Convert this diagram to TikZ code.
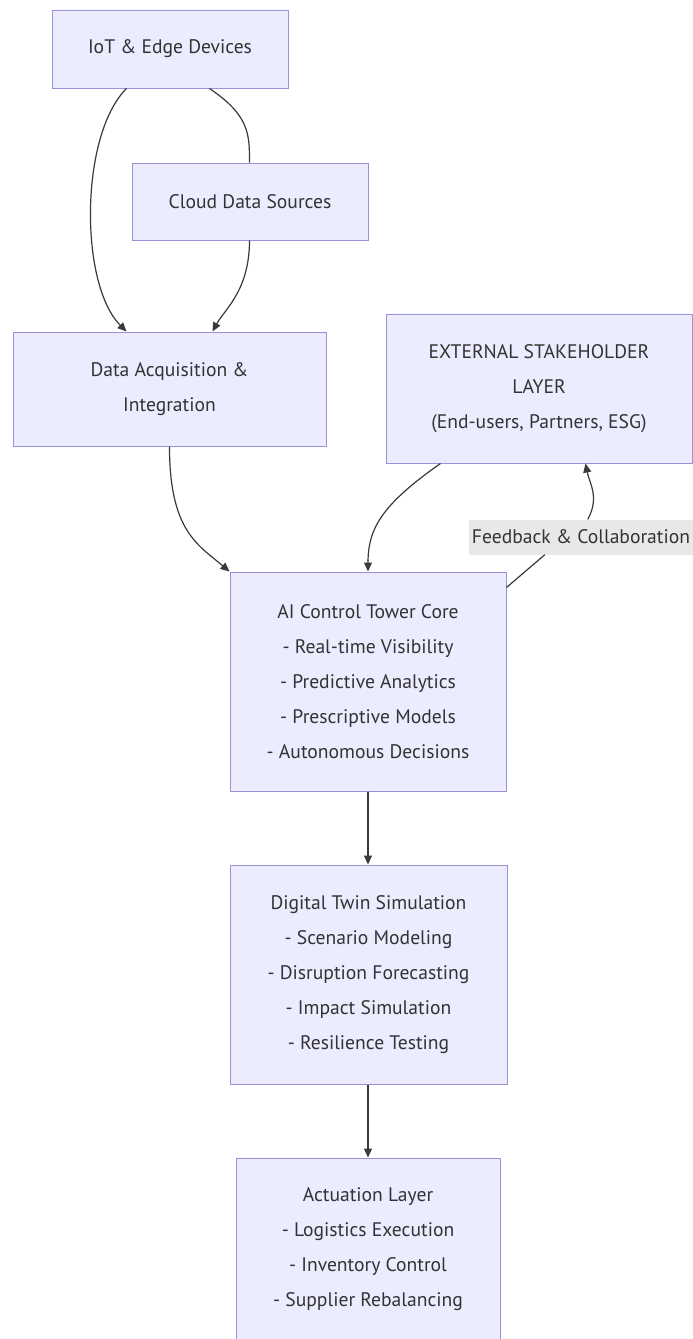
\documentclass[tikz,border=0pt]{standalone}
\usepackage{fontspec}
\setmainfont{PT Sans}
\usetikzlibrary{arrows.meta,calc}
\definecolor{nodefill}{HTML}{ECECFF}
\definecolor{nodeline}{HTML}{9D8FD8}
\definecolor{txt}{HTML}{333333}
\definecolor{edgecol}{HTML}{3A3A3A}
\definecolor{lblbg}{HTML}{E8E8E8}
\begin{document}
\begin{tikzpicture}[x=1pt,y=-1pt,
  box/.style={draw=nodeline, fill=nodefill, line width=1pt, align=center,
    text=txt, font=\fontsize{19.6}{35}\selectfont, inner sep=0pt},
  conn/.style={draw=edgecol, line width=1.2pt},
  arr/.style={conn, -{Triangle[length=9pt,width=8pt]}},
  lbl/.style={fill=lblbg, text=txt, font=\fontsize{19.6}{22}\selectfont,
    inner sep=0pt, minimum width=224pt, minimum height=35pt}]
\useasboundingbox[fill=white] (0,0) rectangle (693,1339);

\node[box, minimum width=236pt, minimum height=78pt] (iot) at (170,49) {IoT \& Edge Devices};
\node[box, minimum width=236pt, minimum height=77pt] (cloud) at (250,201.5) {Cloud Data Sources};
\node[box, minimum width=313pt, minimum height=114pt] (acq) at (169.5,389) {Data Acquisition \&\\Integration};
\node[box, minimum width=306pt, minimum height=149pt] (ext) at (539,388.5) {EXTERNAL STAKEHOLDER\\LAYER\\(End-users, Partners, ESG)};
\node[box, minimum width=276pt, minimum height=219pt] (ai) at (368,681.5) {AI Control Tower Core\\- Real-time Visibility\\- Predictive Analytics\\- Prescriptive Models\\- Autonomous Decisions};
\node[box, minimum width=277pt, minimum height=219pt] (twin) at (368.5,974.5) {Digital Twin Simulation\\- Scenario Modeling\\- Disruption Forecasting\\- Impact Simulation\\- Resilience Testing};
\node[box, minimum width=264pt, minimum height=183pt] (act) at (368,1249.5) {Actuation Layer\\- Logistics Execution\\- Inventory Control\\- Supplier Rebalancing};

\node[lbl] (fb) at (581,537) {Feedback \& Collaboration};

% IoT -> Data Acquisition
\draw[arr] ($(iot.south west)+(75,0)$) .. controls +(-47,47) and +(-47,-47) .. ($(acq.north west)+(114,0)$);
% IoT -- Cloud
\draw[conn] ($(iot.south west)+(158,0)$) .. controls +(40,27) and +(0,-28) .. ($(cloud.north west)+(118,0)$);
% Cloud -> Data Acquisition
\draw[arr] ($(cloud.south west)+(118,0)$) .. controls +(0,50) and +(12,-22) .. ($(acq.north west)+(200,0)$);
% Data Acquisition -> AI
\draw[arr] ($(acq.south west)+(157,0)$) .. controls +(0,84) and +(-32,-27) .. (ai.north west);
% External -> AI
\draw[arr] ($(ext.south west)+(55,0)$) .. controls +(-60,42) and +(0,-42) .. (ai.north);
% AI -> External (with label)
\draw[conn] ($(ai.north east)+(0,16)$) -- ($(fb.south west)+(76,0)$);
\draw[arr] ($(fb.north west)+(119,0)$) .. controls +(12,-22) and +(4,20) .. ($(ext.south west)+(200,0)$);
% AI -> Twin -> Actuation
\draw[arr] (ai.south) -- (twin.north -| ai.south);
\draw[arr] (twin.south -| act.north) -- (act.north);
\end{tikzpicture}
\end{document}
